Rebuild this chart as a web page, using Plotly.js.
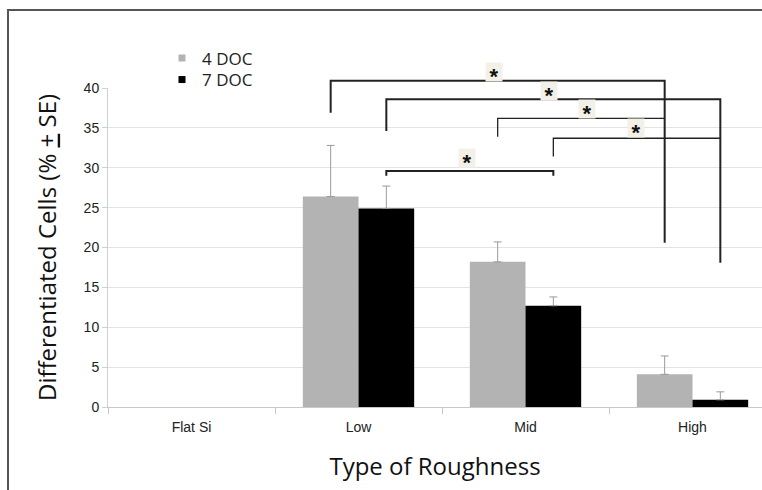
<!DOCTYPE html>
<html>
<head>
<meta charset="utf-8">
<script src="https://cdn.plot.ly/plotly-3.0.1.min.js"></script>
<style>
  html, body { margin: 0; padding: 0; background: #fff; }
  #chart { width: 762px; height: 490px; }
</style>
</head>
<body>
<div id="chart"></div>
<script>
// ---- data ----
const categories = ['Flat Si', 'Low', 'Mid', 'High'];
const seriesNames = ['4 DOC', '7 DOC'];
const doc4 = [null, 26.4, 18.2, 4.1];
const doc4Err = [0, 6.4, 2.5, 2.3];
const doc7 = [null, 24.9, 12.7, 0.9];
const doc7Err = [0, 2.8, 1.1, 1.0];
const yTicks = [0, 5, 10, 15, 20, 25, 30, 35, 40];

// significance brackets (category + series at each end, heights in data units)
const sigLeftCat = ['Low', 'Low', 'Mid', 'Mid', 'Low'];
const sigLeftSeries = ['4 DOC', '7 DOC', '4 DOC', '7 DOC', '7 DOC'];
const sigRightCat = ['High', 'High', 'High', 'High', 'Mid'];
const sigRightSeries = ['4 DOC', '7 DOC', '4 DOC', '7 DOC', '7 DOC'];
const sigTop = [40.9, 38.6, 36.2, 33.7, 29.6];
const sigLeftEnd = [36.9, 34.6, 33.9, 31.4, 29.0];
const sigRightEnd = [20.6, 18.1, 36.2, 33.7, 29.0];
const sigStarX = [1.81, 2.14, 2.37, 2.66, 1.65];
const sigStarY = [41.9, 39.5, 37.2, 34.8, 31.1];

// ---- styling / geometry ----
const yRange = [0, 40];
const bargap = 1 / 3;
const barOffset = (1 - bargap) / 4; // center offset of each of 2 bars
const bracketWidths = [2, 2, 1.3, 1.3, 2];
const gray = '#b3b3b3';

function xPos(cat, series) {
  const i = categories.indexOf(cat);
  return i + (series === seriesNames[0] ? -barOffset : barOffset);
}
function yPaper(v) { return (v - yRange[0]) / (yRange[1] - yRange[0]); }

const traces = [
  {
    type: 'bar', name: seriesNames[0], x: categories, y: doc4,
    marker: { color: gray, line: { width: 0 } },
    error_y: { type: 'data', symmetric: false, array: doc4Err, arrayminus: doc4.map(() => 0),
      color: '#9a9a9a', thickness: 1, width: 4 },
    showlegend: false, hoverinfo: 'skip'
  },
  {
    type: 'bar', name: seriesNames[1], x: categories, y: doc7,
    marker: { color: '#000000', line: { width: 0 } },
    error_y: { type: 'data', symmetric: false, array: doc7Err, arrayminus: doc7.map(() => 0),
      color: '#9a9a9a', thickness: 1, width: 4 },
    showlegend: false, hoverinfo: 'skip'
  },
  // legend proxies
  { type: 'scatter', mode: 'markers', name: seriesNames[0], x: [null], y: [null], legend: 'legend',
    marker: { symbol: 'square', size: 7, color: gray } },
  { type: 'scatter', mode: 'markers', name: seriesNames[1], x: [null], y: [null], legend: 'legend2',
    marker: { symbol: 'square', size: 7, color: '#000000' } }
];

const shapes = [];
for (let k = 0; k < sigTop.length; k++) {
  const xl = xPos(sigLeftCat[k], sigLeftSeries[k]);
  const xr = xPos(sigRightCat[k], sigRightSeries[k]);
  shapes.push({
    type: 'path', xref: 'x', yref: 'paper', layer: 'above',
    path: 'M' + xl + ',' + yPaper(sigLeftEnd[k]) + ' L' + xl + ',' + yPaper(sigTop[k]) +
          ' L' + xr + ',' + yPaper(sigTop[k]) + ' L' + xr + ',' + yPaper(sigRightEnd[k]),
    line: { color: '#222', width: bracketWidths[k] }
  });
}
// outer frame
shapes.push({
  type: 'rect', xref: 'paper', yref: 'paper', layer: 'above',
  x0: (8 - 108) / 654, x1: 1.2, y0: -0.5, y1: (407 - 10) / 319,
  line: { color: '#555', width: 2 }, fillcolor: 'rgba(0,0,0,0)'
});

const annotations = sigStarX.map((sx, k) => ({
  x: sx, y: yPaper(sigStarY[k]), xref: 'x', yref: 'paper',
  xanchor: 'center', yanchor: 'middle', text: '*', showarrow: false,
  font: { family: 'Liberation Sans, Arial', size: 22, color: '#111', weight: 'bold' },
  bgcolor: '#f3f1e7', yshift: 1, height: 16, width: 14, valign: 'top'
}));

const legendCommon = {
  xanchor: 'left', yanchor: 'top',
  font: { family: 'Open Sans', size: 17, color: '#222' },
  bgcolor: 'rgba(0,0,0,0)', borderwidth: 0, tracegroupgap: 0
};

const layout = {
  width: 762, height: 490,
  margin: { l: 108, r: 0, t: 88, b: 83, pad: 0 },
  paper_bgcolor: '#ffffff', plot_bgcolor: '#ffffff',
  barmode: 'group', bargap: bargap, bargroupgap: 0,
  showlegend: true,
  legend: Object.assign({ x: (162 - 108) / 654, y: (407 - 40.5) / 319 }, legendCommon),
  legend2: Object.assign({ x: (162 - 108) / 654, y: (407 - 62) / 319 }, legendCommon),
  xaxis: {
    type: 'category', categoryorder: 'array', categoryarray: categories,
    range: [-0.5, -0.5 + 654 / 167],
    tickson: 'boundaries', ticks: 'outside', ticklen: 6, tickcolor: '#c8c8c8',
    showline: true, linecolor: '#c8c8c8', linewidth: 1,
    showgrid: false, zeroline: false, ticklabelstandoff: 7,
    tickfont: { family: 'Liberation Sans, Arial', size: 14, color: '#222' },
    title: { text: 'Type of Roughness', font: { family: 'Open Sans', size: 24, color: '#111' }, standoff: 24 }
  },
  yaxis: {
    range: yRange, tickvals: yTicks,
    ticks: 'outside', ticklen: 5, tickcolor: '#d0d0d0',
    showline: true, linecolor: '#d0d0d0', linewidth: 1,
    showgrid: true, gridcolor: '#e3e3e3', gridwidth: 1, zeroline: false,
    tickfont: { family: 'Liberation Sans, Arial', size: 14, color: '#222' },
    title: { text: 'Differentiated Cells (% <u>+</u> SE)', font: { family: 'Open Sans', size: 24, color: '#111' }, standoff: 20 }
  },
  shapes: shapes,
  annotations: annotations
};

Plotly.newPlot('chart', traces, layout, { displayModeBar: false, staticPlot: true });
</script>
</body>
</html>
